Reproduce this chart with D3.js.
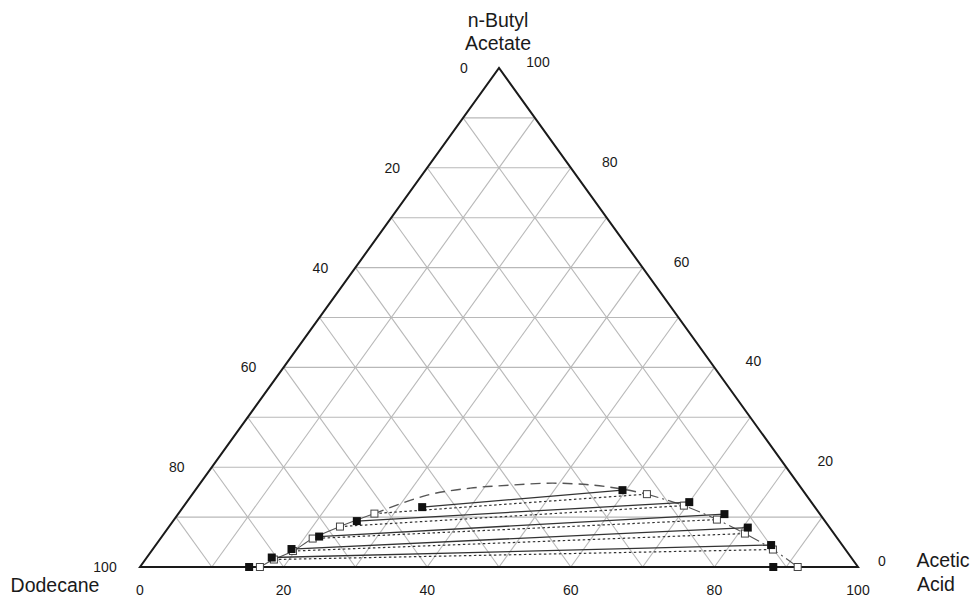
<!DOCTYPE html>
<html>
<head>
<meta charset="utf-8">
<script src="https://cdn.jsdelivr.net/npm/d3@7"></script>
<style>
  body { margin: 0; background: #fff; }
  text { font-family: "Liberation Sans", Arial, sans-serif; fill: #1a1a1a; }
</style>
</head>
<body>
<svg width="972" height="597"></svg>
<script>
// compositions in % : [acetic acid, n-butyl acetate] (dodecane = rest)
const expLeft  = [[15.2,0],[17.4,1.9],[19.3,3.6],[21.9,6.1],[25.6,9.2],[33.3,12.0]];
const expRight = [[88.2,0],[85.7,4.4],[80.7,7.9],[76.1,10.6],[70.0,13.0],[59.5,15.4]];
const calcLeft  = [[16.7,0],[17.9,1.5],[19.7,3.2],[21.2,5.7],[23.8,8.1],[27.3,10.7]];
const calcRight = [[91.6,0],[86.4,3.5],[80.9,6.7],[75.6,9.5],[69.6,12.3],[63.3,14.6]];
const binodalTop = [[27.3,10.7],[32.8,14.4],[38.1,15.8],[43.3,16.4],[49.1,16.8],[54.9,16.4],[59.9,15.5],[63.3,14.6]];
const ticks = [0,20,40,60,80,100];

const svg = d3.select("svg");
const xScale = d3.scaleLinear().domain([0,100]).range([140,858]);
const yScale = d3.scaleLinear().domain([0,100]).range([567,68]);
const px = d => xScale(d[0] + d[1]/2);
const py = d => yScale(d[1]);
const line = d3.line().x(px).y(py);

// grid
const grid = [];
for (let k = 10; k < 100; k += 10) {
  grid.push([[0,k],[100-k,k]]);
  grid.push([[k,0],[k,100-k]]);
  grid.push([[100-k,0],[0,100-k]]);
}
svg.append("g").selectAll("path").data(grid).enter().append("path")
  .attr("d", line).attr("fill","none").attr("stroke","#b8b8b8").attr("stroke-width",1.1);

// outline
svg.append("path")
  .attr("d", line([[0,0],[100,0],[0,100]]) + "Z")
  .attr("fill","none").attr("stroke","#1a1a1a").attr("stroke-width",2);

// binodal curve
const curve = d3.line().x(px).y(py).curve(d3.curveCatmullRom);
svg.append("path").attr("d", curve(calcLeft)).attr("fill","none")
  .attr("stroke","#555").attr("stroke-width",1.1);
svg.append("path").attr("d", curve(binodalTop)).attr("fill","none")
  .attr("stroke","#555").attr("stroke-width",1.4).attr("stroke-dasharray","10,6");
svg.append("path").attr("d", curve(calcRight.slice().reverse())).attr("fill","none")
  .attr("stroke","#555").attr("stroke-width",1.1).attr("stroke-dasharray","12,4,2,4");

// tie lines
svg.append("g").selectAll("path").data(d3.range(1,6)).enter().append("path")
  .attr("d", i => line([calcLeft[i], calcRight[i]]))
  .attr("fill","none").attr("stroke","#333").attr("stroke-width",1.2).attr("stroke-dasharray","2.5,2.5");
svg.append("g").selectAll("path").data(d3.range(1,6)).enter().append("path")
  .attr("d", i => line([expLeft[i], expRight[i]]))
  .attr("fill","none").attr("stroke","#333").attr("stroke-width",1.3);

// markers
const s = 7;
svg.append("g").selectAll("rect").data(calcLeft.concat(calcRight)).enter().append("rect")
  .attr("x", d => px(d) - s/2).attr("y", d => py(d) - s/2)
  .attr("width", s).attr("height", s)
  .attr("fill","#fff").attr("stroke","#444").attr("stroke-width",1);
svg.append("g").selectAll("rect").data(expLeft.concat(expRight)).enter().append("rect")
  .attr("x", d => px(d) - 4).attr("y", d => py(d) - 4)
  .attr("width", 8).attr("height", 8)
  .attr("fill","#111");

// tick labels
const tl = svg.append("g").attr("font-size", 14).attr("text-anchor","middle");
ticks.forEach(t => {
  // bottom: acetic acid
  tl.append("text").attr("x", xScale(t)).attr("y", 595).text(t);
  // left: dodecane
  tl.append("text").attr("x", px([0,100-t]) - 35).attr("y", py([0,100-t]) + 5).text(t);
  // right: n-butyl acetate
  tl.append("text").attr("x", px([100-t,t]) + (t === 0 ? 24 : 39)).attr("y", py([100-t,t]) - 1).text(t);
});

// component labels
const al = svg.append("g").attr("font-size", 19.5).attr("text-anchor","middle");
al.append("text").attr("x", 498).attr("y", 27).text("n-Butyl");
al.append("text").attr("x", 498).attr("y", 50).text("Acetate");
al.append("text").attr("x", 55).attr("y", 592).text("Dodecane");
al.append("text").attr("x", 943).attr("y", 567).text("Acetic");
al.append("text").attr("x", 936).attr("y", 591).text("Acid");
</script>
</body>
</html>
